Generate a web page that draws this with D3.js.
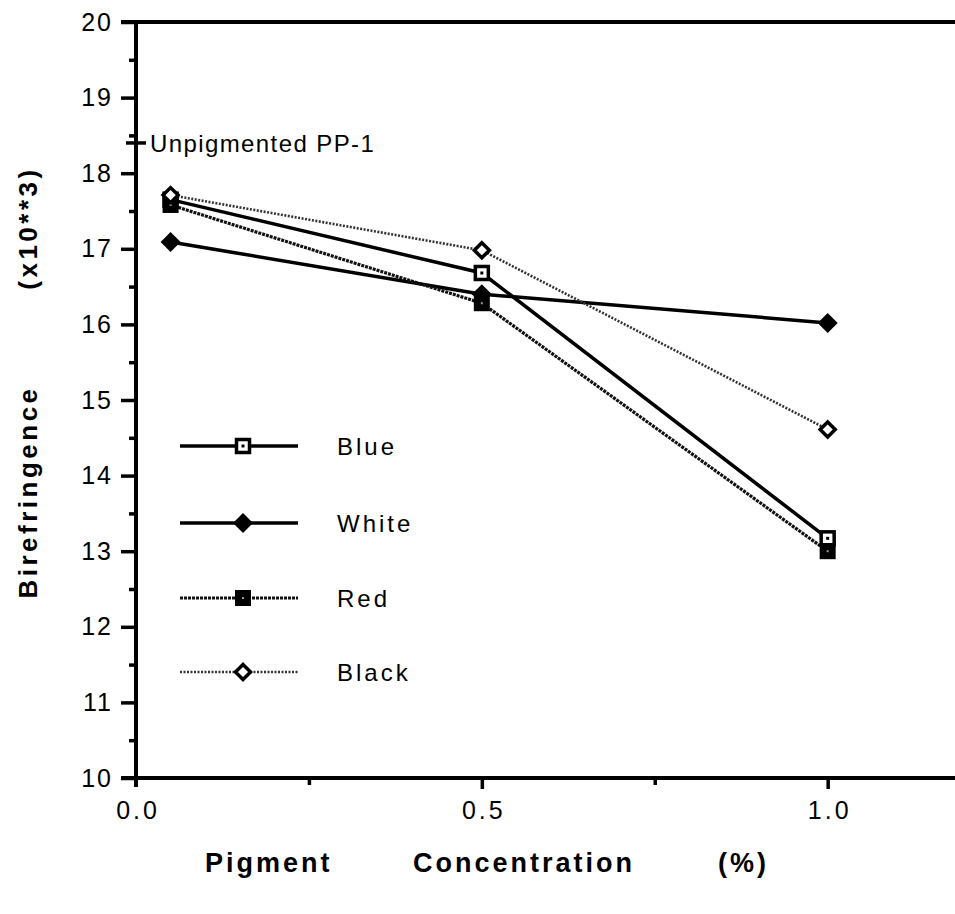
<!DOCTYPE html>
<html>
<head>
<meta charset="utf-8">
<script src="https://cdn.jsdelivr.net/npm/d3@7"></script>
<style>
  body { margin: 0; background: #fff; }
  text { font-family: "Liberation Sans", Arial, sans-serif; fill: #000; }
</style>
</head>
<body>
<svg width="955" height="914"></svg>
<script>
// data
const conc = [0.05, 0.5, 1.0];
const blue = [17.65, 16.68, 13.17];
const white = [17.09, 16.40, 16.02];
const red = [17.58, 16.28, 13.0];
const black = [17.71, 16.98, 14.61];
const unpigmented = 18.4;
const yTicks = [10, 11, 12, 13, 14, 15, 16, 17, 18, 19, 20];
const xTicks = [0, 0.5, 1.0];
const xTickLabels = ["0.0", "0.5", "1.0"];

const svg = d3.select("svg");

const x = d3.scaleLinear().domain([0, 1.2]).range([136, 966]);
const y = d3.scaleLinear().domain([10, 20]).range([778, 22]);

const series = [
  { name: "Blue", values: blue, marker: "sqOpen", dash: null, color: "#000", w: 3.5 },
  { name: "White", values: white, marker: "diaFill", dash: null, color: "#000", w: 3.5 },
  { name: "Red", values: red, marker: "sqFill", dash: "3,1", color: "#111", w: 3.2 },
  { name: "Black", values: black, marker: "diaOpen", dash: "2,1.5", color: "#333", w: 2.6 }
];

// axes
const yAxis = svg.append("g").attr("transform", "translate(136,0)")
  .call(d3.axisLeft(y).tickValues(yTicks).tickSize(15).tickPadding(10).tickFormat(d3.format("d")));
yAxis.select(".domain").remove();
yAxis.selectAll("line").style("stroke-width", "3.5px");
yAxis.selectAll("text").style("font-size", "25px").attr("letter-spacing", "2px").attr("dx", "2px");

svg.append("g").attr("transform", "translate(136,0)")
  .call(d3.axisLeft(y).tickValues(d3.range(10.5, 20, 1)).tickSize(7).tickFormat(""))
  .call(g => g.select(".domain").remove())
  .selectAll("line").style("stroke-width", "3.5px");

const xAxis = svg.append("g").attr("transform", "translate(0,778)")
  .call(d3.axisBottom(x).tickValues(xTicks).tickSize(11).tickPadding(12)
    .tickFormat((d, i) => xTickLabels[i]));
xAxis.select(".domain").remove();
xAxis.selectAll("line").style("stroke-width", "3.5px");
xAxis.selectAll("text").style("font-size", "25px").attr("letter-spacing", "3px").attr("dx", "1.5px");
xAxis.selectAll(".tick").filter(d => d === 0).select("line").remove();

svg.append("g").attr("transform", "translate(0,778)")
  .call(d3.axisBottom(x).tickValues([0.25, 0.75]).tickSize(7).tickFormat(""))
  .call(g => g.select(".domain").remove())
  .selectAll("line").style("stroke-width", "3.5px");

// frame lines
svg.append("line").attr("x1", x(0)).attr("x2", x(0)).attr("y1", y(20)).attr("y2", y(10) + 9)
  .attr("stroke", "#000").attr("stroke-width", 4);
svg.append("line").attr("x1", x(0) - 15).attr("x2", 955).attr("y1", y(20)).attr("y2", y(20))
  .attr("stroke", "#000").attr("stroke-width", 4);
svg.append("line").attr("x1", x(0) - 15).attr("x2", 955).attr("y1", y(10)).attr("y2", y(10))
  .attr("stroke", "#000").attr("stroke-width", 4);

// unpigmented reference
svg.append("line").attr("x1", x(0) - 10).attr("x2", x(0) + 10)
  .attr("y1", y(unpigmented)).attr("y2", y(unpigmented))
  .attr("stroke", "#000").attr("stroke-width", 3.5);
svg.append("text").attr("x", x(0) + 14).attr("y", y(unpigmented) + 9)
  .attr("letter-spacing", "1.4px")
  .text("Unpigmented PP-1").style("font-size", "24px");

// markers
function drawMarker(g, type, cx, cy) {
  if (type === "sqOpen") {
    g.append("rect").attr("x", cx - 6.5).attr("y", cy - 6.5).attr("width", 13).attr("height", 13)
      .attr("fill", "#fff").attr("stroke", "#000").attr("stroke-width", 3.5);
    g.append("rect").attr("x", cx - 1.5).attr("y", cy - 1.5).attr("width", 3).attr("height", 3).attr("fill", "#000");
  } else if (type === "sqFill") {
    g.append("rect").attr("x", cx - 8).attr("y", cy - 8).attr("width", 16).attr("height", 16)
      .attr("fill", "#000");
    g.append("rect").attr("x", cx - 1).attr("y", cy - 1).attr("width", 2).attr("height", 2).attr("fill", "#999");
  } else if (type === "diaFill") {
    g.append("path").attr("d", `M${cx},${cy - 10}L${cx + 10},${cy}L${cx},${cy + 10}L${cx - 10},${cy}Z`)
      .attr("fill", "#000");
  } else {
    g.append("path").attr("d", `M${cx},${cy - 7.5}L${cx + 7.5},${cy}L${cx},${cy + 7.5}L${cx - 7.5},${cy}Z`)
      .attr("fill", "#fff").attr("stroke", "#000").attr("stroke-width", 3.5);
  }
}

const line = d3.line().x(d => x(d[0])).y(d => y(d[1]));

series.forEach(s => {
  const pts = conc.map((c, i) => [c, s.values[i]]);
  svg.append("path").datum(pts).attr("d", line).attr("fill", "none")
    .attr("stroke", s.color).attr("stroke-width", s.w).attr("stroke-dasharray", s.dash);
});
series.forEach(s => {
  const g = svg.append("g");
  conc.forEach((c, i) => drawMarker(g, s.marker, x(c), y(s.values[i])));
});

// legend
const legendY = [446, 523, 598, 672];
series.forEach((s, i) => {
  const ly = legendY[i];
  svg.append("line").attr("x1", 180).attr("x2", 298).attr("y1", ly).attr("y2", ly)
    .attr("stroke", s.color).attr("stroke-width", s.w).attr("stroke-dasharray", s.dash);
  drawMarker(svg.append("g"), s.marker, 243, ly);
  svg.append("text").attr("x", 337).attr("y", ly + 9).attr("letter-spacing", "3px")
    .text(s.name).style("font-size", "24px");
});

// axis titles
const xTitle = ["Pigment", "Concentration", "(%)"];
const xTitlePos = [205, 413, 718];
xTitle.forEach((t, i) => {
  svg.append("text").attr("x", xTitlePos[i]).attr("y", 872)
    .style("font-size", "27px").style("font-weight", "bold").attr("letter-spacing", "3px")
    .text(t);
});

const yTitle = ["Birefringence", "(x10**3)"];
const yTitleCenter = [492, 228];
yTitle.forEach((t, i) => {
  svg.append("text").attr("transform", `translate(37,${yTitleCenter[i]}) rotate(-90)`)
    .attr("text-anchor", "middle")
    .style("font-size", "26px").style("font-weight", "bold").attr("letter-spacing", "3.5px")
    .text(t);
});
</script>
</body>
</html>
